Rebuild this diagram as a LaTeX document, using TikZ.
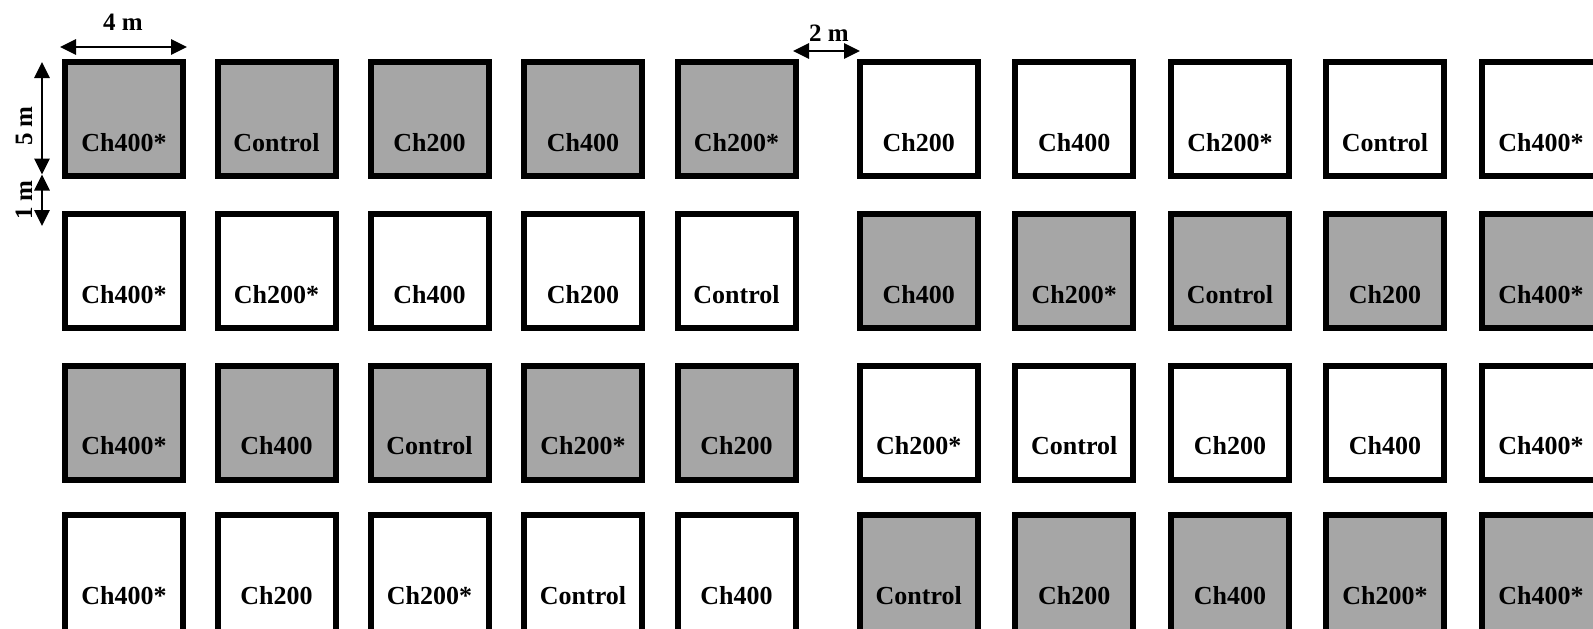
\documentclass[tikz,border=0pt]{standalone}
\usepackage{fontspec}
\setmainfont{Liberation Serif}
\usetikzlibrary{arrows.meta}
\definecolor{plotgray}{HTML}{A6A6A6}
\newcommand\plotbox[5]{%
  \node[#4] (#1) at (#2,#3) {};
  \node[lab] (#1-t) at ([yshift=-92pt]#1.north) {#5};
}
\begin{document}
\begin{tikzpicture}[x=1pt,y=-1pt,
  plot/.style={draw=black, line width=6pt, rectangle, inner sep=0pt,
    minimum width=118pt, minimum height=114pt, anchor=north west},
  gplot/.style={plot, fill=plotgray},
  wplot/.style={plot, fill=white},
  lastrow/.style={minimum height=124pt},
  lab/.style={font=\fontsize{26}{30}\selectfont\bfseries, anchor=base, inner sep=0pt},
  dimtxt/.style={font=\fontsize{25}{30}\selectfont\bfseries, anchor=base, inner sep=0pt},
  dimarrow/.style={line width=2.7pt,
    {Triangle[length=16pt,width=15pt]}-{Triangle[length=16pt,width=15pt]}},
]
\useasboundingbox (0,0) rectangle (1593,629);
\clip (0,0) rectangle (1593,629);
% Row 1
\plotbox{a1}{62}{59}{gplot}{Ch400*}
\plotbox{a2}{214.5}{59}{gplot}{Control}
\plotbox{a3}{367.5}{59}{gplot}{Ch200}
\plotbox{a4}{521}{59}{gplot}{Ch400}
\plotbox{a5}{674.5}{59}{gplot}{Ch200*}
\plotbox{a6}{856.7}{59}{wplot}{Ch200}
\plotbox{a7}{1012.3}{59}{wplot}{Ch400}
\plotbox{a8}{1168}{59}{wplot}{Ch200*}
\plotbox{a9}{1323}{59}{wplot}{Control}
\plotbox{a10}{1479}{59}{wplot}{Ch400*}
% Row 2
\plotbox{b1}{62}{211}{wplot}{Ch400*}
\plotbox{b2}{214.5}{211}{wplot}{Ch200*}
\plotbox{b3}{367.5}{211}{wplot}{Ch400}
\plotbox{b4}{521}{211}{wplot}{Ch200}
\plotbox{b5}{674.5}{211}{wplot}{Control}
\plotbox{b6}{856.7}{211}{gplot}{Ch400}
\plotbox{b7}{1012.3}{211}{gplot}{Ch200*}
\plotbox{b8}{1168}{211}{gplot}{Control}
\plotbox{b9}{1323}{211}{gplot}{Ch200}
\plotbox{b10}{1479}{211}{gplot}{Ch400*}
% Row 3
\plotbox{c1}{62}{362.7}{gplot}{Ch400*}
\plotbox{c2}{214.5}{362.7}{gplot}{Ch400}
\plotbox{c3}{367.5}{362.7}{gplot}{Control}
\plotbox{c4}{521}{362.7}{gplot}{Ch200*}
\plotbox{c5}{674.5}{362.7}{gplot}{Ch200}
\plotbox{c6}{856.7}{362.7}{wplot}{Ch200*}
\plotbox{c7}{1012.3}{362.7}{wplot}{Control}
\plotbox{c8}{1168}{362.7}{wplot}{Ch200}
\plotbox{c9}{1323}{362.7}{wplot}{Ch400}
\plotbox{c10}{1479}{362.7}{wplot}{Ch400*}
% Row 4 (cut off at the bottom edge)
\plotbox{d1}{62}{512.3}{wplot,lastrow}{Ch400*}
\plotbox{d2}{214.5}{512.3}{wplot,lastrow}{Ch200}
\plotbox{d3}{367.5}{512.3}{wplot,lastrow}{Ch200*}
\plotbox{d4}{521}{512.3}{wplot,lastrow}{Control}
\plotbox{d5}{674.5}{512.3}{wplot,lastrow}{Ch400}
\plotbox{d6}{856.7}{512.3}{gplot,lastrow}{Control}
\plotbox{d7}{1012.3}{512.3}{gplot,lastrow}{Ch200}
\plotbox{d8}{1168}{512.3}{gplot,lastrow}{Ch400}
\plotbox{d9}{1323}{512.3}{gplot,lastrow}{Ch200*}
\plotbox{d10}{1479}{512.3}{gplot,lastrow}{Ch400*}
% Dimension arrows
\coordinate (w1) at (60,47);
\coordinate (w2) at (187,47);
\draw[dimarrow] (w1) -- (w2);
\node[dimtxt] (wl) at (123,30.5) {4 m};
\coordinate (h1) at (42,62);
\coordinate (h2) at (42,174.5);
\coordinate (h3) at (42,226);
\draw[dimarrow] (h1) -- (h2);
\draw[dimarrow] (h2) -- (h3);
\node[dimtxt, rotate=90] (hl) at (32,126) {5 m};
\node[dimtxt, rotate=90] (gl) at (32,200) {1 m};
\coordinate (g1) at (793,51);
\coordinate (g2) at (860,51);
\draw[dimarrow] (g1) -- (g2);
\node[dimtxt] (gapl) at (829,41.5) {2 m};
\end{tikzpicture}
\end{document}
